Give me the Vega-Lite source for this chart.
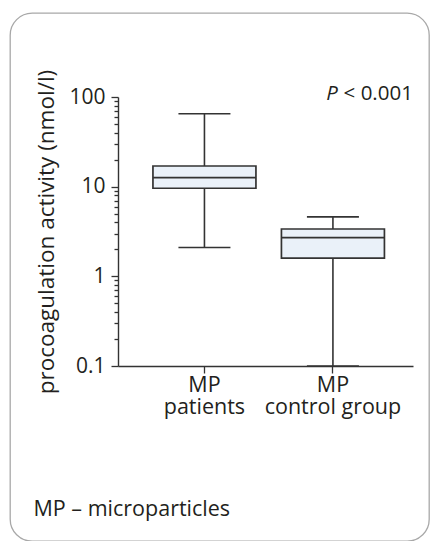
{
  "$schema": "https://vega.github.io/schema/vega-lite/v6.json",
  "width": 419,
  "height": 528,
  "autosize": {"type": "none"},
  "padding": {"left": 10, "top": 13, "right": 1, "bottom": 0},
  "background": "white",
  "config": {
    "view": {"stroke": "#a8a8a8", "strokeWidth": 1.3, "cornerRadius": 22, "fill": "white"},
    "font": "Open Sans",
    "axis": {"labelFont": "Open Sans", "titleFont": "Open Sans", "labelColor": "#231f20", "titleColor": "#231f20", "domainColor": "#333333", "tickColor": "#333333", "grid": false, "domainWidth": 1.4, "tickWidth": 1.3}
  },
  "datasets": {
    "boxes": [
      {"group": "patients", "min": 2.1, "q1": 9.6, "median": 12.6, "q3": 17.0, "max": 65},
      {"group": "control group", "min": 0.1, "q1": 1.6, "median": 2.7, "q3": 3.37, "max": 4.6}
    ],
    "notes": [
      {"group": "control group", "yv": 100, "p": "P", "rest": "< 0.001"}
    ]
  },
  "data": {"name": "boxes"},
  "encoding": {
    "x": {
      "field": "group", "type": "nominal",
      "scale": {"domain": ["patients", "control group"], "range": [108, 403], "paddingInner": 0.2, "paddingOuter": 0.248, "align": 0.55},
      "axis": {
        "orient": "bottom", "offset": -175,
        "labelExpr": "['MP', datum.label]",
        "labelAngle": 0, "labelFontSize": 21.5, "labelFontWeight": "normal", "labelLineHeight": 22,
        "labelPadding": 1, "labelBaseline": "top", "tickSize": 7,
        "title": "MP – microparticles", "titleFontSize": 21.5, "titleFontWeight": "normal",
        "titleX": 23, "titleY": 149, "titleAlign": "left", "titleBaseline": "alphabetic", "titleAnchor": "start"
      }
    }
  },
  "layer": [
    {
      "mark": {"type": "rule", "color": "#333333", "strokeWidth": 1.6},
      "encoding": {
        "y": {
          "field": "min", "type": "quantitative",
          "scale": {"type": "log", "domain": [0.1, 100], "range": [353, 84]},
          "axis": {
            "orient": "left", "offset": -108,
            "values": [0.1, 0.2, 0.3, 0.4, 0.5, 0.6, 0.7, 0.8, 0.9, 1, 2, 3, 4, 5, 6, 7, 8, 9, 10, 20, 30, 40, 50, 60, 70, 80, 90, 100],
            "labelExpr": "(datum.value == 0.1 || datum.value == 1 || datum.value == 10 || datum.value == 100) ? '' + datum.value : ''",
            "tickSize": {"condition": {"test": "datum.value == 0.1 || datum.value == 1 || datum.value == 10 || datum.value == 100", "value": 7}, "value": 4},
            "labelFontSize": 21, "labelPadding": 6, "labelBaseline": "middle",
            "title": "procoagulation activity (nmol/l)", "titleFontSize": 22.5, "titleFontWeight": "normal", "titlePadding": 10
          }
        },
        "y2": {"field": "q1"}
      }
    },
    {
      "mark": {"type": "rule", "color": "#333333", "strokeWidth": 1.6},
      "encoding": {"y": {"field": "q3", "type": "quantitative"}, "y2": {"field": "max"}}
    },
    {
      "mark": {"type": "tick", "color": "#333333", "size": 52, "thickness": 1.6, "opacity": 1},
      "encoding": {"y": {"field": "min", "type": "quantitative"}}
    },
    {
      "mark": {"type": "tick", "color": "#333333", "size": 52, "thickness": 1.6, "opacity": 1},
      "encoding": {"y": {"field": "max", "type": "quantitative"}}
    },
    {
      "mark": {"type": "bar", "size": 103, "fill": "#eaf1f9", "stroke": "#333333", "strokeWidth": 1.7},
      "encoding": {"y": {"field": "q1", "type": "quantitative"}, "y2": {"field": "q3"}}
    },
    {
      "mark": {"type": "tick", "color": "#333333", "size": 103, "thickness": 1.7, "opacity": 1},
      "encoding": {"y": {"field": "median", "type": "quantitative"}}
    },
    {
      "data": {"name": "notes"},
      "mark": {"type": "text", "align": "right", "baseline": "alphabetic", "dx": 80, "dy": 3, "fontSize": 20.5, "font": "Open Sans", "color": "#231f20"},
      "encoding": {"y": {"field": "yv", "type": "quantitative"}, "text": {"field": "rest"}}
    },
    {
      "data": {"name": "notes"},
      "mark": {"type": "text", "align": "right", "baseline": "alphabetic", "dx": 5, "dy": 3, "fontSize": 20.5, "font": "Open Sans", "fontStyle": "italic", "color": "#231f20"},
      "encoding": {"y": {"field": "yv", "type": "quantitative"}, "text": {"field": "p"}}
    }
  ]
}
